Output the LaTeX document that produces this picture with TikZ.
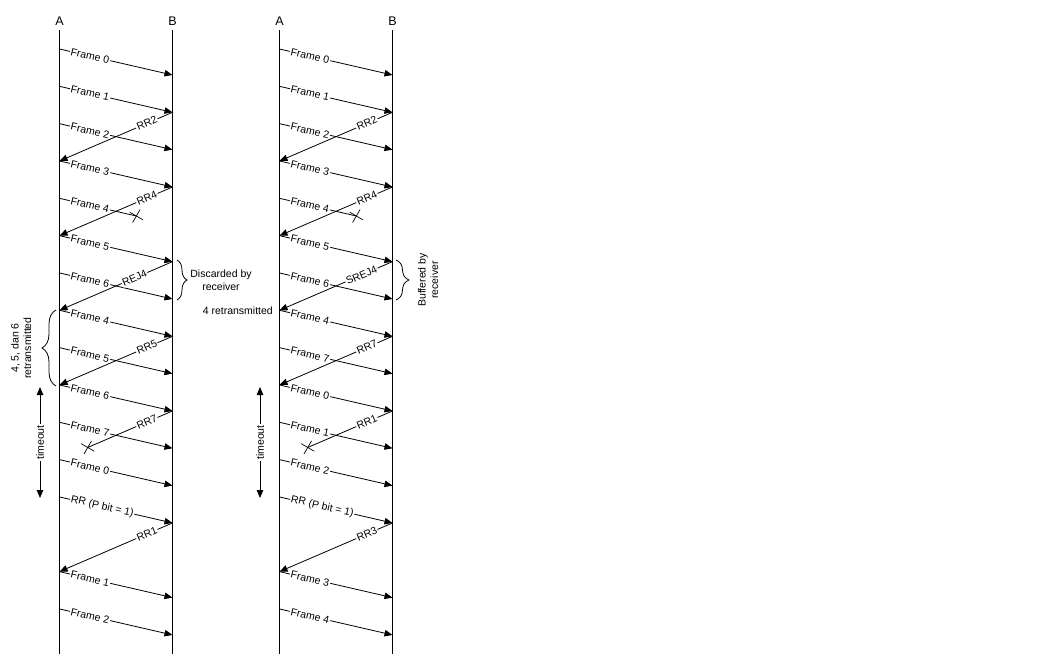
\documentclass[tikz,border=0pt]{standalone}
\usepackage{fontspec}
\setmainfont{Liberation Sans}
\usetikzlibrary{arrows.meta,decorations.pathreplacing,shapes.misc,calc}
\begin{document}
\begin{tikzpicture}[x=1pt,y=-1pt,
  every node/.style={font=\fontsize{10.5}{12.5}\selectfont},
  lifeline/.style={line width=1pt},
  msg/.style={line width=0.8pt,-{Triangle[length=8pt,width=6.5pt]}},
  lostmsg/.style={line width=0.8pt},
  flbl/.style={sloped,fill=white,inner sep=1pt,anchor=west},
  albl/.style={sloped,fill=white,inner sep=1pt,anchor=east},
  lostmark/.style={cross out,draw,line width=0.7pt,minimum size=10pt,inner sep=0pt,rotate=15},
  hdr/.style={font=\fontsize{12.5}{14}\selectfont},
  bracedeco/.style={decorate,decoration={brace,amplitude=#1},line width=0.8pt},
  tmo/.style={line width=0.8pt,{Triangle[length=8pt,width=6.5pt]}-{Triangle[length=8pt,width=6.5pt]}},
  note/.style={align=center,inner sep=0pt}
]
\useasboundingbox (0,0) rectangle (1050,665);

% lifelines and headers
\foreach \side/\ax in {L/59.5,R/279.5} {
  \node[hdr] (\side Ahdr) at (\ax,21) {A};
  \node[hdr] (\side Bhdr) at (\ax+113,21) {B};
  \coordinate (\side Atop) at (\ax,30);
  \coordinate (\side Abot) at (\ax,654);
  \coordinate (\side Btop) at (\ax+113,30);
  \coordinate (\side Bbot) at (\ax+113,654);
  \draw[lifeline] (\side Atop) -- (\side Abot);
  \draw[lifeline] (\side Btop) -- (\side Bbot);
  \coordinate (\side Tt) at (\ax-19.5,387);
  \coordinate (\side Tb) at (\ax-19.5,498);
  \foreach \k in {0,...,15} {
    \coordinate (\side A\k) at (\ax,{49+37.33*\k});
    \coordinate (\side B\k) at (\ax+113,{75+37.33*\k});
  }
}

% ---------------- left diagram ----------------
\draw[msg] (LA0) -- node[flbl,pos=0.09]{Frame 0} (LB0);
\draw[msg] (LA1) -- node[flbl,pos=0.09]{Frame 1} (LB1);
\draw[msg] (LA2) -- node[flbl,pos=0.09]{Frame 2} (LB2);
\draw[msg] (LA3) -- node[flbl,pos=0.09]{Frame 3} (LB3);
\coordinate (LX4) at ($(LA4)!0.68!(LB4)$);
\draw[lostmsg] (LA4) -- node[flbl,pos=0.13]{Frame 4} (LX4);
\node[lostmark] (LX4m) at (LX4) {};
\draw[msg] (LA5) -- node[flbl,pos=0.09]{Frame 5} (LB5);
\draw[msg] (LA6) -- node[flbl,pos=0.09]{Frame 6} (LB6);
\draw[msg] (LA7) -- node[flbl,pos=0.09]{Frame 4} (LB7);
\draw[msg] (LA8) -- node[flbl,pos=0.09]{Frame 5} (LB8);
\draw[msg] (LA9) -- node[flbl,pos=0.09]{Frame 6} (LB9);
\draw[msg] (LA10) -- node[flbl,pos=0.09]{Frame 7} (LB10);
\draw[msg] (LA11) -- node[flbl,pos=0.09]{Frame 0} (LB11);
\draw[msg] (LA12) -- node[flbl,pos=0.09]{RR (P bit = 1)} (LB12);
\draw[msg] (LA14) -- node[flbl,pos=0.09]{Frame 1} (LB14);
\draw[msg] (LA15) -- node[flbl,pos=0.09]{Frame 2} (LB15);

\draw[msg] (LB1) -- node[albl,pos=0.13]{RR2} (LA3);
\draw[msg] (LB3) -- node[albl,pos=0.13]{RR4} (LA5);
\draw[msg] (LB5) -- node[albl,pos=0.22]{REJ4} (LA7);
\draw[msg] (LB7) -- node[albl,pos=0.13]{RR5} (LA9);
\coordinate (LX9) at ($(LB9)!0.75!(LA11)$);
\draw[lostmsg] (LB9) -- node[albl,pos=0.173]{RR7} (LX9);
\node[lostmark] (LX9m) at (LX9) {};
\draw[msg] (LB12) -- node[albl,pos=0.13]{RR1} (LA14);

\draw[bracedeco=10pt] (177,260) -- (177,300);
\node[note] (LDisc) at (221,280) {Discarded by\\receiver};
\draw[bracedeco=14pt] (56,386) -- (56,310);
\node[note,rotate=90] (LRetx) at (21,348) {4, 5, dan 6\\retransmitted};
\draw[tmo] (LTt) -- node[fill=white,rotate=90,inner sep=1pt]{timeout} (LTb);

% ---------------- right diagram ----------------
\draw[msg] (RA0) -- node[flbl,pos=0.09]{Frame 0} (RB0);
\draw[msg] (RA1) -- node[flbl,pos=0.09]{Frame 1} (RB1);
\draw[msg] (RA2) -- node[flbl,pos=0.09]{Frame 2} (RB2);
\draw[msg] (RA3) -- node[flbl,pos=0.09]{Frame 3} (RB3);
\coordinate (RX4) at ($(RA4)!0.68!(RB4)$);
\draw[lostmsg] (RA4) -- node[flbl,pos=0.13]{Frame 4} (RX4);
\node[lostmark] (RX4m) at (RX4) {};
\draw[msg] (RA5) -- node[flbl,pos=0.09]{Frame 5} (RB5);
\draw[msg] (RA6) -- node[flbl,pos=0.09]{Frame 6} (RB6);
\draw[msg] (RA7) -- node[flbl,pos=0.09]{Frame 4} (RB7);
\draw[msg] (RA8) -- node[flbl,pos=0.09]{Frame 7} (RB8);
\draw[msg] (RA9) -- node[flbl,pos=0.09]{Frame 0} (RB9);
\draw[msg] (RA10) -- node[flbl,pos=0.09]{Frame 1} (RB10);
\draw[msg] (RA11) -- node[flbl,pos=0.09]{Frame 2} (RB11);
\draw[msg] (RA12) -- node[flbl,pos=0.09]{RR (P bit = 1)} (RB12);
\draw[msg] (RA14) -- node[flbl,pos=0.09]{Frame 3} (RB14);
\draw[msg] (RA15) -- node[flbl,pos=0.09]{Frame 4} (RB15);

\draw[msg] (RB1) -- node[albl,pos=0.13]{RR2} (RA3);
\draw[msg] (RB3) -- node[albl,pos=0.13]{RR4} (RA5);
\draw[msg] (RB5) -- node[albl,pos=0.13]{SREJ4} (RA7);
\draw[msg] (RB7) -- node[albl,pos=0.13]{RR7} (RA9);
\coordinate (RX9) at ($(RB9)!0.75!(RA11)$);
\draw[lostmsg] (RB9) -- node[albl,pos=0.173]{RR1} (RX9);
\node[lostmark] (RX9m) at (RX9) {};
\draw[msg] (RB12) -- node[albl,pos=0.13]{RR3} (RA14);

\node[anchor=east,inner sep=0pt] (R4re) at (273,311) {4 retransmitted};
\draw[bracedeco=13pt] (396,260) -- (396,300);
\node[note,rotate=90] (RBuf) at (428,280) {Buffered by\\receiver};
\draw[tmo] (RTt) -- node[fill=white,rotate=90,inner sep=1pt]{timeout} (RTb);
\end{tikzpicture}
\end{document}
